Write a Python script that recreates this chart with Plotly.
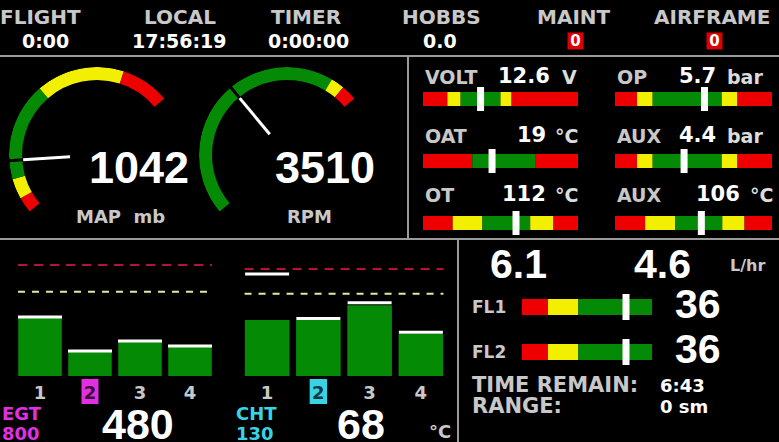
import plotly.graph_objects as go

W, H = 779, 442

# ---------------- data ----------------
header_labels = ["FLIGHT", "LOCAL", "TIMER", "HOBBS", "MAINT", "AIRFRAME"]
header_values = ["0:00", "17:56:19", "0:00:00", "0.0", "0", "0"]
header_alerts = [False, False, False, False, True, True]

map_value = 1042
map_zones = [800, 870, 960, 1395, 1785, 2000]
map_kinds = ["R", "Y", "G", "Y", "R"]
map_text = ["1042", "MAP  mb"]

rpm_value = 3510
rpm_zones = [0, 6250, 6600, 7000]
rpm_kinds = ["G", "Y", "R"]
rpm_text = ["3510", "RPM"]

gauge_labels = ["VOLT", "OP", "OAT", "AUX", "OT", "AUX"]
gauge_values = [12.6, 5.7, 19, 4.4, 112, 106]
gauge_value_text = ["12.6", "5.7", "19", "4.4", "112", "106"]
gauge_units = ["V", "bar", "°C", "bar", "°C", "°C"]
gauge_zones = [
    [10, 11.1, 11.7, 13.5, 14.0, 17],
    [0, 1.4, 2.4, 6.8, 7.8, 10],
    [-30, 5, 50, 80],
    [0, 1.4, 2.4, 6.8, 7.8, 10],
    [40, 63, 86, 123, 141, 160],
    [40, 63, 86, 122, 139, 160],
]
gauge_kinds = [
    ["R", "Y", "G", "Y", "R"],
    ["R", "Y", "G", "Y", "R"],
    ["R", "G", "R"],
    ["R", "Y", "G", "Y", "R"],
    ["R", "Y", "G", "Y", "R"],
    ["R", "Y", "G", "Y", "R"],
]

cylinders = [1, 2, 3, 4]
cyl_labels = ["1", "2", "3", "4"]
selected_cyl = 2
egt = [606, 480, 517, 499]
egt_peak = [606, 480, 517, 499]
egt_red, egt_yellow = 800, 700
egt_range = [387, 837]
egt_text = ["EGT", "800", "480"]
cht = [68, 68, 86, 51]
cht_peak = [124, 70, 89, 53]
cht_red, cht_yellow = 130, 100
cht_range = [0, 147]
cht_text = ["CHT", "130", "68", "°C"]

fuel_flow_text = ["6.1", "4.6", "L/hr"]
fuel_labels = ["FL1", "FL2"]
fuel_levels = [36, 36]
fuel_level_text = ["36", "36"]
fuel_zones = [0, 9, 19.5, 45]
fuel_kinds = ["R", "Y", "G"]
info_labels = ["TIME REMAIN:", "RANGE:"]
info_values = ["6:43", "0 sm"]

# ---------------- style ----------------
COL = {"R": "#ee0000", "Y": "#f2f000", "G": "#058a05"}
GRAY = "#c8c8c8"
LINE = "#9a9a9a"
BIG = "Liberation Sans"
SMALL = "DejaVu Sans"
LINE_SYMBOL_FACTOR = 1.4  # plotly draws line-ew / line-ns markers 1.4x their size

fig = go.Figure()
annotations = []
shapes = []


def px_x(x):
    return x / W


def px_y(y):
    return 1 - y / H


def txt(text, x, y, size, color="white", family=SMALL, xanchor="center", **kw):
    annotations.append(dict(
        text=text, x=px_x(x), y=px_y(y), xref="paper", yref="paper",
        xanchor=xanchor, yanchor="middle", showarrow=False,
        font=dict(family=family, size=size, color=color, weight="bold"), **kw))


axis_n = [0]


def new_axes(x0, x1, ytop, ybot, xrange, yrange, **xkw):
    axis_n[0] += 1
    n = axis_n[0]
    sfx = "" if n == 1 else str(n)
    xa, ya = "x" + sfx, "y" + sfx
    xd = dict(domain=[px_x(x0), px_x(x1)], range=xrange, anchor=ya,
              showgrid=False, zeroline=False, showline=False, fixedrange=True)
    xd.update(xkw)
    if "tickvals" not in xkw:
        xd["visible"] = False
    yd = dict(domain=[px_y(ybot), px_y(ytop)], range=yrange, anchor=xa,
              visible=False, fixedrange=True)
    fig.update_layout(**{"xaxis" + sfx: xd, "yaxis" + sfx: yd})
    return xa, ya


# ---------------- dividers ----------------
for (x0, y0, x1, y1) in [(0, 56, W, 56), (408, 56, 408, 239), (0, 239, W, 239), (458, 239, 458, H)]:
    shapes.append(dict(type="line", xref="paper", yref="paper", x0=px_x(x0), x1=px_x(x1),
                       y0=px_y(y0), y1=px_y(y1), line=dict(color=LINE, width=2)))

# ---------------- header ----------------
hdr_lab_x = [40, 180, 306, 441, 574, 712]
hdr_val_x = [45, 179, 308, 440, 575, 714]
for lab, val, alert, lx, vx in zip(header_labels, header_values, header_alerts, hdr_lab_x, hdr_val_x):
    txt(lab, lx, 17, 20, GRAY)
    if alert:
        txt(val, vx, 41, 15, "white", bgcolor="#dd0000", width=15, height=16, borderpad=0)
    else:
        txt(val, vx, 41, 19, "white")

# ---------------- arc gauges ----------------
def arc_gauge(polar, center, zones, kinds, value, texts, num_x, lab_x):
    cx, cy = center
    R = 88
    span = 180.0
    lo, hi = zones[0], zones[-1]
    th = [(z - lo) / (hi - lo) * span for z in zones]
    mids = [(a + b) / 2 for a, b in zip(th[:-1], th[1:])]
    widths = [b - a for a, b in zip(th[:-1], th[1:])]
    fig.add_trace(go.Barpolar(theta=mids, width=widths, r=[13] * len(mids), base=[75] * len(mids),
                              marker=dict(color=[COL[k] for k in kinds], line=dict(width=0)),
                              subplot=polar, hoverinfo="skip"))
    tv = (value - lo) / (hi - lo) * span
    fig.add_trace(go.Scatterpolar(theta=[tv, tv], r=[74, 89], mode="lines",
                                  line=dict(color="black", width=3), subplot=polar, hoverinfo="skip"))
    fig.add_trace(go.Scatterpolar(theta=[tv, tv], r=[27, 74], mode="lines",
                                  line=dict(color="white", width=3), subplot=polar, hoverinfo="skip"))
    fig.update_layout(**{polar: dict(
        domain=dict(x=[px_x(cx - R), px_x(cx + R)], y=[px_y(cy + R), px_y(cy - R)]),
        bgcolor="rgba(0,0,0,0)",
        radialaxis=dict(range=[0, R], visible=False),
        angularaxis=dict(rotation=220, direction="clockwise", visible=False),
    )})
    txt(texts[0], num_x, 167, 45, "white", family=BIG)
    txt(texts[1], lab_x, 216, 18, GRAY)


arc_gauge("polar", (97, 155), map_zones, map_kinds, map_value, map_text, 139, 120)
arc_gauge("polar2", (287, 155), rpm_zones, rpm_kinds, rpm_value, rpm_text, 325, 309)

# ---------------- cylinder bar charts ----------------
def cyl_chart(xdom, values, peaks, yr, red, yellow, texts, hl_color, hl_text, lab_x):
    ticktext = [f'<span style="color:{hl_text}">{c}</span>' if v == selected_cyl else c
                for v, c in zip(cylinders, cyl_labels)]
    xa, ya = new_axes(xdom[0], xdom[1], 255, 376, [0.5, 4.5], yr,
                      tickvals=cylinders, ticktext=ticktext, ticks="", ticklabelstandoff=4,
                      tickfont=dict(family=SMALL, size=18, color=GRAY, weight="bold"))
    fig.add_trace(go.Bar(x=cylinders, y=values, width=0.87, marker=dict(color=COL["G"], line=dict(width=0)),
                         xaxis=xa, yaxis=ya, hoverinfo="skip"))
    fig.add_trace(go.Scatter(x=cylinders, y=peaks, mode="markers",
                             marker=dict(symbol="line-ew", size=44 / LINE_SYMBOL_FACTOR,
                                         line=dict(width=3, color="white")),
                             xaxis=xa, yaxis=ya, hoverinfo="skip"))
    for lvl, col, dash in [(red, "#b8103a", "9px,7px"), (yellow, "#e6e6a0", "7px,7px")]:
        shapes.append(dict(type="line", xref=xa, yref=ya, x0=0.56, x1=4.44, y0=lvl, y1=lvl,
                           line=dict(color=col, width=2, dash=dash)))
    shapes.append(dict(type="rect", xref=xa, yref="paper", x0=selected_cyl - 0.17, x1=selected_cyl + 0.17,
                       y0=px_y(404), y1=px_y(379), fillcolor=hl_color, line=dict(width=0), layer="below"))
    txt(texts[0], lab_x, 413, 18, hl_color, xanchor="left")
    txt(texts[1], lab_x, 433, 18, hl_color, xanchor="left")


cyl_chart((15, 215), egt, egt_peak, egt_range, egt_red, egt_yellow, egt_text, "#e030e0", "#3a0a3a", 0)
txt(egt_text[2], 138, 424, 43, "white", family=BIG)
cyl_chart((241.5, 446.5), cht, cht_peak, cht_range, cht_red, cht_yellow, cht_text, "#38d4e4", "#103848", 234)
txt(cht_text[2], 361, 424, 43, "white", family=BIG)
txt(cht_text[3], 427, 431, 18, GRAY, xanchor="left")

# ---------------- linear gauges ----------------
def linear_gauge(box, zones, kinds, value):
    x0, x1, yt, yb = box
    pad = 6
    xa, ya = new_axes(x0, x1, yt - pad, yb + pad, [zones[0], zones[-1]], [-1, 1])
    thick = 2 * (yb - yt) / (yb - yt + 2 * pad)
    fig.add_trace(go.Bar(orientation="h", y=[0] * (len(zones) - 1),
                         x=[b - a for a, b in zip(zones[:-1], zones[1:])], base=zones[:-1],
                         width=thick, marker=dict(color=[COL[k] for k in kinds], line=dict(width=0)),
                         xaxis=xa, yaxis=ya, hoverinfo="skip"))
    fig.add_trace(go.Scatter(x=[value], y=[0], mode="markers",
                             marker=dict(symbol="line-ns", size=(yb - yt + 10) / LINE_SYMBOL_FACTOR,
                                         line=dict(width=7, color="white")),
                             xaxis=xa, yaxis=ya, hoverinfo="skip"))


col_x = [(423, 578), (615, 772)]
row_y = [(92, 106), (154, 168), (216, 230)]
label_y = [77, 136, 195]
val_right = [552, 718, 548, 718, 548, 742]
unit_left = [560, 725, 553, 725, 553, 748]
for i in range(6):
    r, c = divmod(i, 2)
    linear_gauge((col_x[c][0], col_x[c][1], row_y[r][0], row_y[r][1]),
                 gauge_zones[i], gauge_kinds[i], gauge_values[i])
    txt(gauge_labels[i], col_x[c][0], label_y[r], 19, GRAY, xanchor="left")
    txt(gauge_value_text[i], val_right[i], label_y[r] - 1, 21, "white", xanchor="right")
    txt(gauge_units[i], unit_left[i], label_y[r], 19, "#dcdcdc", xanchor="left")

# ---------------- fuel panel ----------------
txt(fuel_flow_text[0], 518, 264, 41, "white", family=BIG)
txt(fuel_flow_text[1], 662, 264, 41, "white", family=BIG)
txt(fuel_flow_text[2], 728, 265, 16, GRAY, xanchor="left")
fuel_rows = [(299, 315), (344, 360)]
for i in range(2):
    yt, yb = fuel_rows[i]
    linear_gauge((522, 652, yt, yb), fuel_zones, fuel_kinds, fuel_levels[i])
    txt(fuel_labels[i], 470, (yt + yb) / 2, 17, GRAY, xanchor="left")
    txt(fuel_level_text[i], 698, (yt + yb) / 2 - 3, 41, "white", family=BIG)
for i, yy in enumerate([385, 406]):
    txt(info_labels[i], 470, yy, 21, GRAY, xanchor="left")
    txt(info_values[i], 658, yy, 18, "white", xanchor="left")

fig.update_layout(
    width=W, height=H, margin=dict(l=0, r=0, t=0, b=0),
    paper_bgcolor="black", plot_bgcolor="rgba(0,0,0,0)",
    showlegend=False, barmode="overlay",
    annotations=annotations, shapes=shapes,
)

fig.write_html("out.html", config={"displayModeBar": False},
               post_script="document.body.style.margin='0';document.body.style.background='black';")
